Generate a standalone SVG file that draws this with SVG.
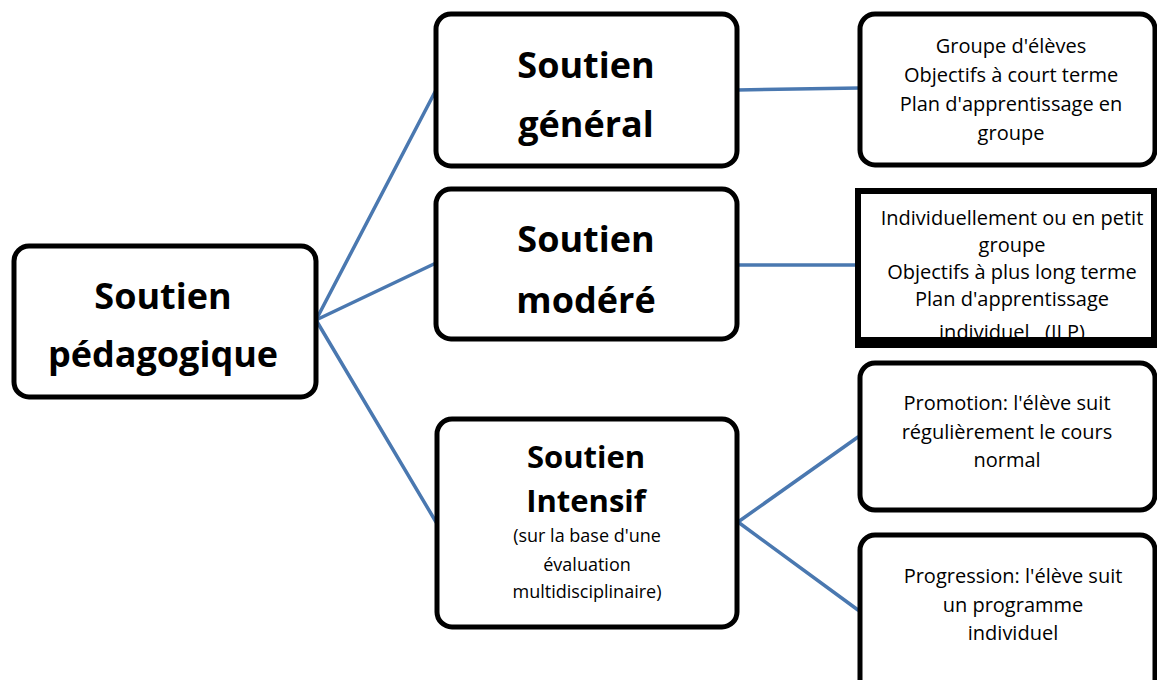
<svg xmlns="http://www.w3.org/2000/svg" width="1157" height="680" viewBox="0 0 1157 680">
<style>
.box{fill:#fff;stroke:#000;stroke-width:5}
.sq{fill:#fff;stroke:#000;stroke-width:6}
.big{font-family:"Open Sans","Noto Sans",sans-serif;font-weight:bold;font-size:36px;fill:#000;text-anchor:middle}
.mid{font-family:"Open Sans","Noto Sans",sans-serif;font-weight:bold;font-size:31px;fill:#000;text-anchor:middle}
.txt{font-family:"Open Sans","Noto Sans",sans-serif;font-size:20px;fill:#000;text-anchor:middle}
.sm{font-family:"Open Sans","Noto Sans",sans-serif;font-size:18px;fill:#000;text-anchor:middle}
.ln{stroke:#4a78b0;stroke-width:3.5;fill:none;stroke-linecap:round}
</style>
<rect width="1157" height="680" fill="#fff"/>
<g id="connectors">
<line class="ln" x1="316" y1="320" x2="436" y2="90"/>
<line class="ln" x1="316" y1="320" x2="436" y2="263"/>
<line class="ln" x1="316" y1="320" x2="436" y2="522"/>
<line class="ln" x1="737" y1="90" x2="860" y2="88"/>
<line class="ln" x1="737" y1="265" x2="858" y2="265"/>
<line class="ln" x1="738" y1="522" x2="858" y2="437"/>
<line class="ln" x1="738" y1="522" x2="858" y2="610"/>
</g>
<g id="root">
<rect class="box" x="14" y="246" width="302" height="151" rx="15"/>
<text class="big" x="163" y="309">Soutien</text>
<text class="big" x="163" y="367">pédagogique</text>
</g>
<g id="general">
<rect class="box" x="436" y="14" width="301" height="152" rx="15"/>
<text class="big" x="586" y="78">Soutien</text>
<text class="big" x="586" y="137">général</text>
</g>
<g id="modere">
<rect class="box" x="436" y="189" width="301" height="150" rx="15"/>
<text class="big" x="586" y="252">Soutien</text>
<text class="big" x="586" y="313">modéré</text>
</g>
<g id="intensif">
<rect class="box" x="437" y="419" width="300" height="208" rx="15"/>
<text class="mid" x="586" y="468">Soutien</text>
<text class="mid" x="586" y="512">Intensif</text>
<text class="sm" x="587" y="542">(sur la base d'une</text>
<text class="sm" x="587" y="571">évaluation</text>
<text class="sm" x="587" y="598">multidisciplinaire)</text>
</g>
<g id="groupe">
<rect class="box" x="860" y="14" width="295" height="151" rx="15"/>
<text class="txt" x="1011" y="53">Groupe d'élèves</text>
<text class="txt" x="1011" y="82">Objectifs à court terme</text>
<text class="txt" x="1011" y="111">Plan d'apprentissage en</text>
<text class="txt" x="1011" y="140">groupe</text>
</g>
<g id="individuel">
<rect class="sq" x="858" y="191" width="296" height="150"/>
<text class="txt" x="1012" y="225">Individuellement ou en petit</text>
<text class="txt" x="1012" y="252">groupe</text>
<text class="txt" x="1012" y="279">Objectifs à plus long terme</text>
<text class="txt" x="1012" y="306">Plan d'apprentissage</text>
<text class="txt" x="1012" y="339" xml:space="preserve">individuel   (ILP)</text>
<rect x="855" y="337" width="302" height="11" fill="#000"/>
</g>
<g id="promotion">
<rect class="box" x="860" y="363" width="295" height="147" rx="15"/>
<text class="txt" x="1007" y="410">Promotion: l'élève suit</text>
<text class="txt" x="1007" y="439">régulièrement le cours</text>
<text class="txt" x="1007" y="467">normal</text>
</g>
<g id="progression">
<rect class="box" x="860" y="535" width="295" height="160" rx="15"/>
<text class="txt" x="1013" y="583">Progression: l'élève suit</text>
<text class="txt" x="1013" y="612">un programme</text>
<text class="txt" x="1013" y="640">individuel</text>
</g>
</svg>
